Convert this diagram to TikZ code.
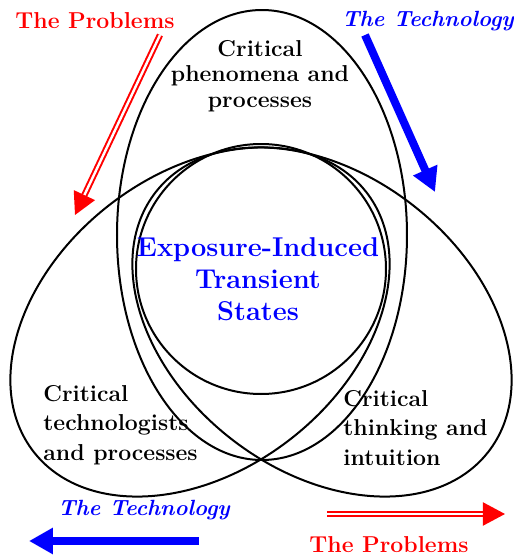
\documentclass[tikz,border=0pt]{standalone}
\usepackage{xcolor}
\usepackage{tikz}
\usetikzlibrary{arrows.meta}

\tikzset{
  lbl/.style={font=\fontsize{11.5}{12.75}\selectfont\bfseries, inner sep=0pt},
  probarrow/.style={red, line width=1pt, double=white, double distance=1.2pt,
                    -{Triangle[length=11pt,width=11.5pt]}},
  techarrow/.style={blue, line width=4pt, -{Triangle[length=12pt,width=12.5pt]}}
}

\begin{document}
\begin{tikzpicture}[x=0.5pt,y=0.5pt]
    \useasboundingbox (0,0) rectangle (514,559);

    % the four regions
    \draw[line width=1pt] (262,324) ellipse [x radius=72.5pt, y radius=112.5pt];
    \draw[line width=1pt, rotate around={38:(200,237)}] (200,237) ellipse [x radius=105.5pt, y radius=74pt];
    \draw[line width=1pt, rotate around={-38:(322,237)}] (322,237) ellipse [x radius=105.5pt, y radius=74pt];
    \draw[line width=1pt] (261,290) circle [radius=62.5pt];

    \node[lbl, align=center] (phen) at (260,483) {Critical\\phenomena and\\processes};
    \node[lbl, align=left, anchor=west, font=\fontsize{11.5}{14.75}\selectfont\bfseries] (tech) at (43,134)
        {Critical\\technologists\\and processes};
    \node[lbl, align=left, anchor=west, font=\fontsize{11.5}{14.75}\selectfont\bfseries] (think) at (343,131)
        {Critical\\thinking and\\intuition};
    \node[lbl, align=center, blue, font=\fontsize{13.6}{16}\selectfont\bfseries] (eits) at (258,280)
        {Exposure-Induced\\Transient\\States};

    \node[lbl, red] (P1) at (95,538) {The Problems};
    \node[lbl, blue, font=\fontsize{11}{13}\selectfont\bfseries\itshape] (T1) at (428,538) {The Technology};
    \node[lbl, blue, font=\fontsize{11}{13}\selectfont\bfseries\itshape] (T2) at (144,49) {The Technology};
    \node[lbl, red] (P2) at (389,14) {The Problems};

    \coordinate (p1a) at (160,524);  \coordinate (p1b) at (75,344);
    \coordinate (t1a) at (365,524);  \coordinate (t1b) at (435,367);
    \coordinate (t2a) at (199,18);   \coordinate (t2b) at (29,18);
    \coordinate (p2a) at (327,45);   \coordinate (p2b) at (505,45);

    \draw[probarrow] (p1a) -- (p1b);
    \draw[techarrow] (t1a) -- (t1b);
    \draw[techarrow] (t2a) -- (t2b);
    \draw[probarrow] (p2a) -- (p2b);
\end{tikzpicture}
\end{document}
